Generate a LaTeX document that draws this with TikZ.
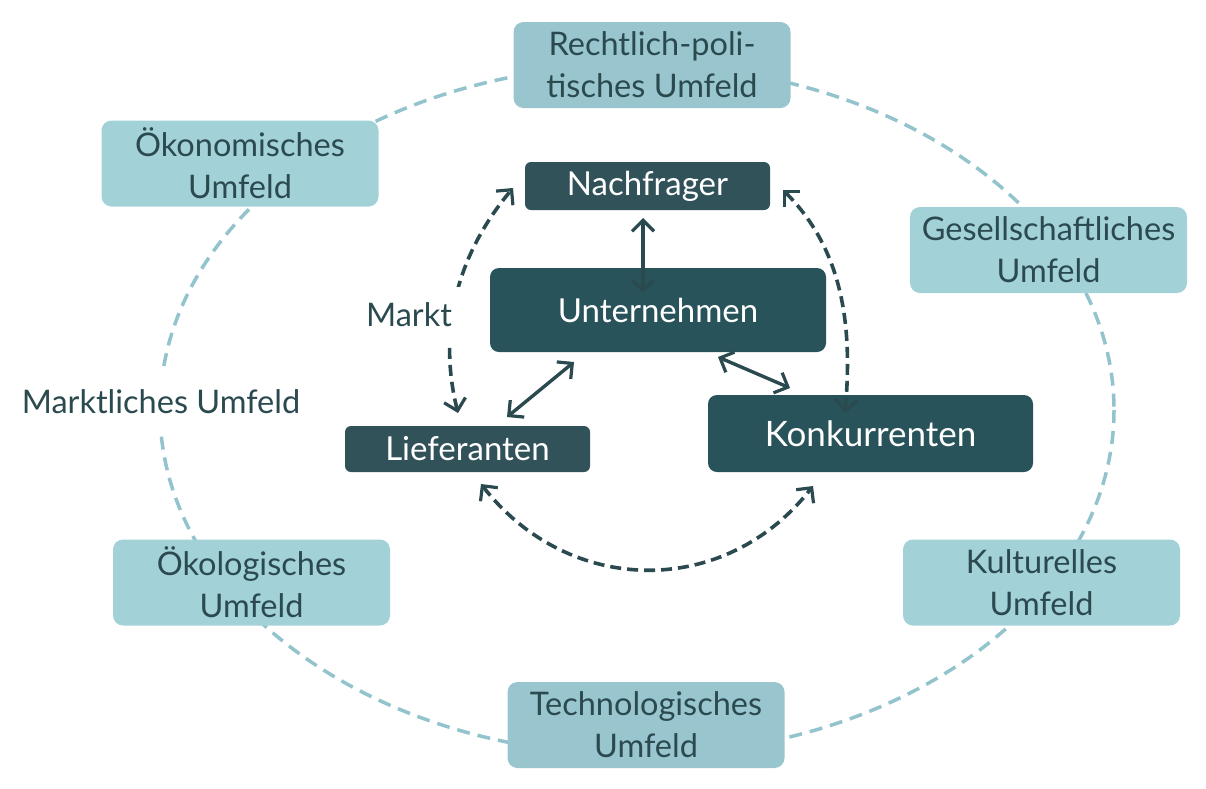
\documentclass[tikz,border=0pt]{standalone}
\usepackage{fontspec}
\setmainfont{Lato}
\usetikzlibrary{arrows.meta}
\definecolor{outerA}{HTML}{A3D1D8}
\definecolor{outerB}{HTML}{99C6CE}
\definecolor{ringc}{HTML}{93C3CC}
\definecolor{darkA}{HTML}{32525A}
\definecolor{darkB}{HTML}{28535A}
\definecolor{txt}{HTML}{2B4A50}
\definecolor{arr}{HTML}{2B4A50}
\tikzset{
  outerbox/.style={fill=outerA, rounded corners=10pt, inner sep=0pt, align=center,
    text=txt, font=\fontsize{32.5}{42}\selectfont, minimum width=277pt, minimum height=86pt},
  innerbox/.style={rounded corners=9pt, inner sep=0pt, align=center,
    text=white, font=\fontsize{33}{38}\selectfont},
  ring/.style={draw=ringc, line width=3.5pt, dash pattern=on 13pt off 8pt},
  tips/.style={{Straight Barb[length=11pt,width=22pt,line width=3.2pt]}-{Straight Barb[length=11pt,width=22pt,line width=3.2pt]}},
  dasharr/.style={draw=arr, line width=3.6pt, dash pattern=on 11pt off 6pt, tips},
  solidarr/.style={draw=arr, line width=3.4pt, tips},
}
\begin{document}
\begin{tikzpicture}[x=1pt,y=-1pt]
\useasboundingbox (0,0) rectangle (1206,788);
% outer ring
\draw[ring] (637,410) ellipse [x radius=477, y radius=345];
% market label (breaks ring)
\node[fill=white, text=txt, font=\fontsize{32.5}{38}\selectfont, inner xsep=2pt, inner ysep=20pt] (mu) at (161,402) {Marktliches Umfeld};
% outer boxes
\node[outerbox, fill=outerB] (rp) at (652,65) {Rechtlich-poli-\\tisches Umfeld};
\node[outerbox] (oek) at (240,163.5) {Ökonomisches\\Umfeld};
\node[outerbox] (ges) at (1048.5,250) {Gesellschaftliches\\Umfeld};
\node[outerbox] (oeko) at (251.5,582.5) {Ökologisches\\Umfeld};
\node[outerbox] (kul) at (1041.5,582.5) {Kulturelles\\Umfeld};
\node[outerbox, fill=outerB] (tec) at (646,725) {Technologisches\\Umfeld};
% inner boxes
\node[innerbox, fill=darkA, minimum width=245pt, minimum height=48pt, rounded corners=6pt] (nf) at (647.5,186) {Nachfrager};
\node[innerbox, fill=darkB, minimum width=336pt, minimum height=84pt] (un) at (658,310) {Unternehmen};
\node[innerbox, fill=darkA, minimum width=245pt, minimum height=46pt, rounded corners=6pt] (lf) at (467.5,449) {Lieferanten};
\node[innerbox, fill=darkB, minimum width=325pt, minimum height=77pt, font=\fontsize{35}{40}\selectfont] (ko) at (870.5,433.5) {Konkurrenten};
% coordinates for arrow ends
\coordinate (nfL) at (513,188);
\coordinate (nfR) at (783,190);
\coordinate (lfT) at (458,413);
\coordinate (lfB) at (481,484);
\coordinate (koT) at (845,413);
\coordinate (koB) at (813,486);
% dashed market arrows
\draw[dasharr] (lfT) to[out=104, in=230, looseness=0.95] (nfL);
\node[fill=white, text=txt, font=\fontsize{32.5}{38}\selectfont, inner xsep=9pt, inner ysep=16pt] (mk) at (409,315) {Markt};
\draw[dasharr] (nfR) to[out=-45, in=85, looseness=0.95] (koT);
\draw[dasharr] (lfB) to[out=-52, in=-128, looseness=1.1] (koB);
% solid arrows
\coordinate (a1) at (643,218);
\coordinate (a2) at (643,293);
\coordinate (b1) at (507,417);
\coordinate (b2) at (574,362);
\coordinate (c1) at (718,357);
\coordinate (c2) at (790,388);
\draw[solidarr] (a1) -- (a2);
\draw[solidarr] (b1) -- (b2);
\draw[solidarr] (c1) -- (c2);
\end{tikzpicture}
\end{document}
